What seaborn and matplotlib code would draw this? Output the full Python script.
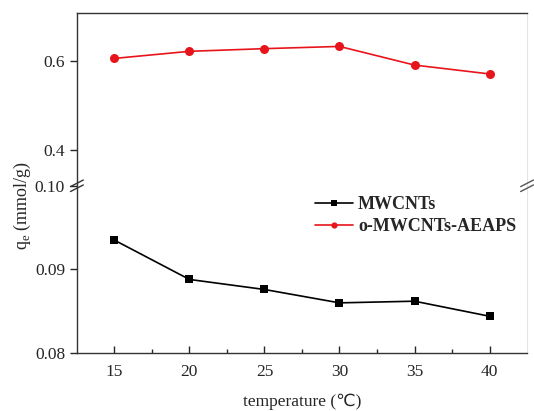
import pandas as pd
import matplotlib
matplotlib.use('Agg')
import matplotlib.pyplot as plt
import seaborn as sns

# data
temperature = [15, 20, 25, 30, 35, 40]
mwcnts = [0.0935, 0.0888, 0.0876, 0.0860, 0.0862, 0.0844]
aeaps = [0.606, 0.622, 0.628, 0.633, 0.591, 0.571]
series_names = ['MWCNTs', 'o-MWCNTs-AEAPS']

sns.set_style('ticks')
plt.rcParams['font.family'] = ['Liberation Serif', 'DejaVu Sans']
plt.rcParams['font.size'] = 12.5

data = pd.DataFrame({
    'temperature': temperature * 2,
    'qe': mwcnts + aeaps,
    'sample': [series_names[0]] * 6 + [series_names[1]] * 6,
})

fig = plt.figure(figsize=(5.34, 4.11), dpi=100)
left, right = 0.144, 0.987
y_break = 0.548
ax_top = fig.add_axes([left, y_break, right - left, 0.968 - y_break])
ax_bot = fig.add_axes([left, 0.141, right - left, y_break - 0.141])

palette = {'MWCNTs': 'black', 'o-MWCNTs-AEAPS': '#e8141c'}
markers = {'MWCNTs': 's', 'o-MWCNTs-AEAPS': 'o'}
for ax in (ax_top, ax_bot):
    sns.lineplot(data=data, x='temperature', y='qe', hue='sample', style='sample',
                 palette=palette, markers=markers, dashes=False, markersize=5.5,
                 markeredgewidth=0, linewidth=1.2, ax=ax, legend=(ax is ax_bot))
    # circles a bit bigger than squares, as in the original
    for line in ax.lines:
        if line.get_marker() == 'o':
            line.set_markersize(6.5)
    ax.set_xlim(12.5, 42.5)
    for s in ('left', 'top', 'bottom'):
        ax.spines[s].set_linewidth(1.0)
        ax.spines[s].set_color('#333333')
    ax.spines['right'].set_color('#e4e4e4')
    ax.spines['right'].set_linewidth(0.8)
    ax.set_xlabel('')
    ax.set_ylabel('')
    ax.tick_params(axis='y', direction='out', length=5, width=1, labelsize=12.5)

ax_top.set_ylim(0.319, 0.708)
ax_top.set_yticks([0.4, 0.6])
ax_top.set_yticklabels(['0.4', '0.6'])
ax_top.spines['bottom'].set_visible(False)
ax_top.tick_params(axis='x', bottom=False, labelbottom=False)

ax_bot.set_ylim(0.08, 0.10)
ax_bot.set_yticks([0.08, 0.09, 0.10])
ax_bot.set_yticklabels(['0.08', '0.09', '0.10'])
ax_bot.spines['top'].set_visible(False)
ax_bot.set_xticks(temperature)
ax_bot.set_xticks([17.5, 22.5, 27.5, 32.5, 37.5], minor=True)
ax_bot.tick_params(axis='x', which='major', direction='in', length=5, width=1,
                   labelsize=12.5, pad=8)
ax_bot.tick_params(axis='x', which='minor', direction='in', length=3, width=1)
ax_bot.set_xlabel('temperature (\u2103)', fontsize=12.5, labelpad=10)

# break marks on the left and right spines
for xb, col in ((left, '#333333'), (right, '#555555')):
    for dy in (-0.006, 0.006):
        fig.add_artist(plt.Line2D([xb - 0.012, xb + 0.012],
                                  [y_break + dy - 0.008, y_break + dy + 0.008],
                                  color=col, linewidth=1.0))

fig.text(0.042, 1 - 205 / 411, 'q$_\\mathregular{e}$ (mmol/g)', rotation=90,
         ha='center', va='center', fontsize=13)

leg = ax_bot.legend(loc='upper left', bbox_to_anchor=(0.512, 0.98), frameon=False,
                    handlelength=2.1, handletextpad=0.3, borderaxespad=0,
                    labelspacing=0.25, prop={'weight': 'bold', 'size': 13})
for h in leg.legend_handles:
    h.set_markersize(4.5)

fig.savefig('out.png', dpi=100)
